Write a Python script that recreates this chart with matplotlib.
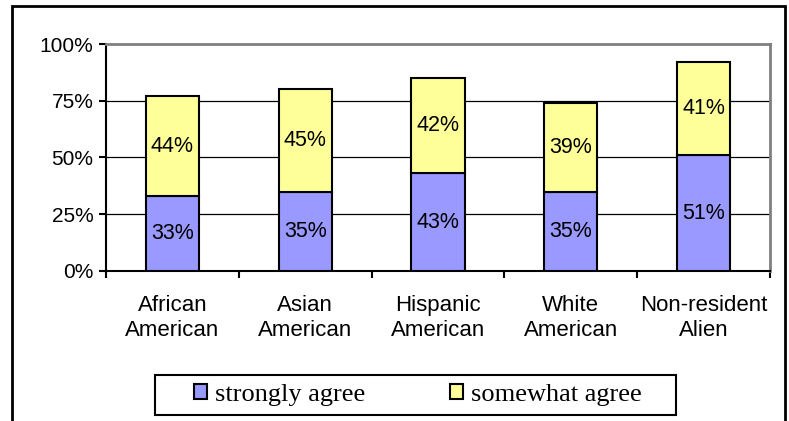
import numpy as np
import matplotlib.pyplot as plt
from matplotlib.patches import Rectangle, Patch

# Data
groups = ['African\nAmerican', 'Asian\nAmerican', 'Hispanic\nAmerican',
          'White\nAmerican', 'Non-resident\nAlien']
strongly = [33, 35, 43, 35, 51]
somewhat = [44, 45, 42, 39, 41]
series_names = ['strongly agree', 'somewhat agree']
yticks = [0, 25, 50, 75, 100]

W, H = 789, 421
fig = plt.figure(figsize=(W / 100, H / 100), dpi=100)

# outer chart border (no bottom edge visible)
fig.patches.append(Rectangle((12 / W, -0.05), (785 - 12) / W, 1.05 - 6 / H,
                             transform=fig.transFigure, fill=False,
                             edgecolor='black', linewidth=2))

ax = fig.add_axes([106 / W, 1 - 271 / H, (770 - 106) / W, (271 - 44) / H])

x = np.arange(len(groups))
c_strong = '#9999FF'
c_some = '#FFFF99'
ax.bar(x, strongly, width=0.4, color=c_strong, edgecolor='black',
       linewidth=1.5, zorder=3)
ax.bar(x, somewhat, bottom=strongly, width=0.4, color=c_some,
       edgecolor='black', linewidth=1.5, zorder=3)

for i in range(len(groups)):
    ax.text(x[i], strongly[i] / 2, f'{strongly[i]}%', ha='center', va='center',
            fontsize=15.5, family='Liberation Sans', zorder=4)
    ax.text(x[i], strongly[i] + somewhat[i] / 2, f'{somewhat[i]}%', ha='center',
            va='center', fontsize=15.5, family='Liberation Sans', zorder=4)

ax.set_xlim(-0.5, len(groups) - 0.5)
ax.set_ylim(0, 100)
ax.set_yticks(yticks)
ax.set_yticklabels([f'{t}%' for t in yticks], fontsize=15, family='Liberation Sans')
ax.set_xticks(x)
ax.set_xticklabels(groups, fontsize=16, family='Liberation Sans', linespacing=1.25)
ax.set_xticks(np.arange(-0.5, len(groups)), minor=True)
ax.tick_params(axis='x', which='major', length=0, pad=17)
ax.tick_params(axis='x', which='minor', length=5, width=1.5, direction='out')
ax.tick_params(axis='y', length=5, width=1.5, direction='out', pad=4)

for t in [25, 50, 75]:
    ax.axhline(t, color='black', linewidth=0.9, zorder=1)

ax.spines['left'].set_linewidth(1.5)
ax.spines['bottom'].set_linewidth(1.5)
for s in ['top', 'right']:
    ax.spines[s].set_color('#808080')
    ax.spines[s].set_linewidth(2)

# legend box drawn separately to match its wide padding
fig.patches.append(Rectangle((155 / W, 1 - 415 / H), (676 - 155) / W, 40 / H,
                             transform=fig.transFigure, fill=False,
                             edgecolor='black', linewidth=1.5))
handles = [Patch(facecolor=c_strong, edgecolor='black', linewidth=1.5),
           Patch(facecolor=c_some, edgecolor='black', linewidth=1.5)]
fig.legend(handles, series_names, loc='center',
           bbox_to_anchor=(418 / W, 1 - 395 / H), ncol=2,
           prop={'family': 'Liberation Serif', 'size': 19},
           frameon=False, handlelength=0.5, handleheight=0.5,
           handletextpad=0.3, columnspacing=3.2, borderpad=0, borderaxespad=0)

fig.savefig('out.png', dpi=100)
